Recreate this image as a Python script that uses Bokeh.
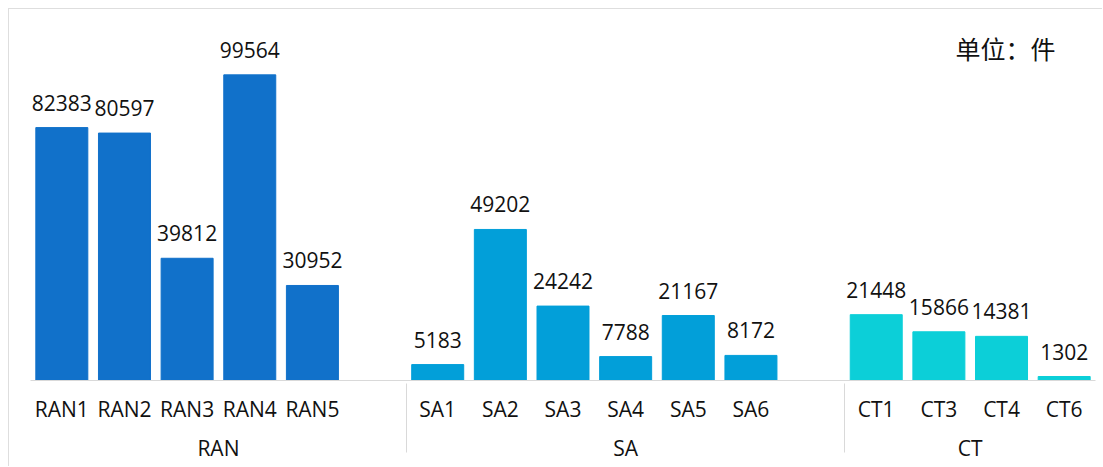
from bokeh.plotting import figure
from bokeh.models import FactorRange, ColumnDataSource, Label, Range1d
from bokeh.core.properties import value
from bokeh.embed import file_html
from bokeh.resources import INLINE

# ---- data ----
ran_cats = ["RAN1", "RAN2", "RAN3", "RAN4", "RAN5"]
ran_vals = [82383, 80597, 39812, 99564, 30952]
sa_cats = ["SA1", "SA2", "SA3", "SA4", "SA5", "SA6"]
sa_vals = [5183, 49202, 24242, 7788, 21167, 8172]
ct_cats = ["CT1", "CT3", "CT4", "CT6"]
ct_vals = [21448, 15866, 14381, 1302]
unit_text = "单位：件"

FONT = "Open Sans"
CJK = "Noto Sans CJK SC"
colors = {"RAN": "#1171CA", "SA": "#029FD9", "CT": "#0CCFD8"}
GRID = "#d9d9d9"

factors = ([("RAN", c) for c in ran_cats] + [("RAN", " ")]
           + [("SA", c) for c in sa_cats] + [("SA", " ")]
           + [("CT", c) for c in ct_cats])

xs, vals, cols, labels = [], [], [], []
for g, cats, vs in (("RAN", ran_cats, ran_vals), ("SA", sa_cats, sa_vals), ("CT", ct_cats, ct_vals)):
    for c, v in zip(cats, vs):
        xs.append((g, c))
        vals.append(v)
        cols.append(colors[g])
        labels.append(str(v))

src = ColumnDataSource(dict(x=xs, top=vals, color=cols, label=labels))

x_range = FactorRange(*factors, range_padding=0, group_padding=0, factor_padding=0)
p = figure(x_range=x_range, y_range=Range1d(0, 120850), width=1094, height=458,
           output_backend="svg", toolbar_location=None, y_axis_location=None,
           min_border_left=21, min_border_right=8, min_border_top=0, min_border_bottom=87)
p.styles = {"margin-left": "8px", "margin-top": "8px",
            "border-top": "1px solid #dedede", "border-left": "1px solid #dedede"}

p.vbar(x="x", top="top", width=0.83, color="color", source=src)
p.text(x="x", y="top", text="label", source=src, text_align="center",
       text_baseline="middle", y_offset=-25, text_font=value(FONT),
       text_font_size="21px", text_color="#111111")

p.add_layout(Label(x=1025, y=333, x_units="screen", y_units="screen", text=unit_text,
                   text_align="right", text_baseline="middle", text_font=CJK,
                   text_font_size="25px", text_color="#111111"))

p.xgrid.grid_line_color = None
p.ygrid.grid_line_color = None
p.outline_line_color = None

ax = p.xaxis[0]
ax.axis_line_color = GRID
ax.major_tick_line_color = None
ax.minor_tick_line_color = None
ax.major_label_text_font = FONT
ax.major_label_text_font_size = "21px"
ax.major_label_text_color = "#111111"
ax.major_label_standoff = 8
ax.group_text_font = FONT
ax.group_text_font_size = "21px"
ax.group_text_color = "#111111"
ax.group_text_font_style = "normal"
ax.separator_line_color = GRID
ax.separator_line_width = 1

open("out.html", "w").write(file_html(p, INLINE))
